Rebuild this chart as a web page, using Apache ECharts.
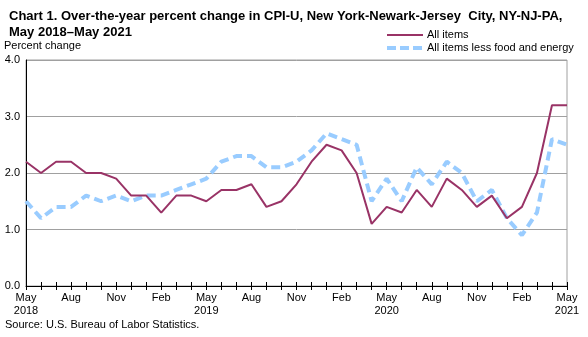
<!DOCTYPE html>
<html><head><meta charset="utf-8">
<script src="https://cdn.jsdelivr.net/npm/echarts@6/dist/echarts.min.js"></script>
<style>html,body{margin:0;padding:0;background:#fff}#c{width:588px;height:337px}</style>
</head><body><div id="c"></div>
<script>
const months = ['May','Jun','Jul','Aug','Sep','Oct','Nov','Dec','Jan','Feb','Mar','Apr'];
const startYear = 2018;
const categories = [];
for (let i = 0; i < 37; i++) {
  const m = months[i % 12];
  const y = startYear + Math.floor(i / 12);
  categories.push(m === 'May' ? 'May\n' + y : m);
}
const seriesNames = ['All items', 'All items less food and energy'];
const allItems = [2.2,2.0,2.2,2.2,2.0,2.0,1.9,1.6,1.6,1.3,1.6,1.6,
                  1.5,1.7,1.7,1.8,1.4,1.5,1.8,2.2,2.5,2.4,2.0,1.1,
                  1.4,1.3,1.7,1.4,1.9,1.7,1.4,1.6,1.2,1.4,2.0,3.2,3.2];
const coreItems = [1.5,1.2,1.4,1.4,1.6,1.5,1.6,1.5,1.6,1.6,1.7,1.8,
                   1.9,2.2,2.3,2.3,2.1,2.1,2.2,2.4,2.7,2.6,2.5,1.5,
                   1.9,1.5,2.1,1.8,2.2,2.0,1.5,1.7,1.2,0.9,1.3,2.6,2.5];
const yTicks = [0,1,2,3,4];
const font = 'Liberation Sans, Arial, sans-serif';
const maroon = '#993366', blue = '#99ccff';
const chart = echarts.init(document.getElementById('c'), null, {renderer:'canvas'});
chart.setOption({
  animation:false,
  backgroundColor:'#fff',
  title:{
    text:'Chart 1. Over-the-year percent change in CPI-U, New York-Newark-Jersey  City, NY-NJ-PA,\nMay 2018\u2013May 2021',
    left:4, top:3,
    textStyle:{fontFamily:font, fontSize:13, fontWeight:'bold', color:'#000', lineHeight:16}
  },
  graphic:[
    {type:'text', left:4, top:40, style:{text:'Percent change', font:'11px '+font, fill:'#000'}},
    {type:'text', left:5, top:319, style:{text:'Source: U.S. Bureau of Labor Statistics.', font:'11px '+font, fill:'#000'}},
    {type:'line', shape:{x1:387, y1:35, x2:423, y2:35}, style:{stroke:maroon, lineWidth:2}},
    {type:'text', left:427, top:29, style:{text:seriesNames[0], font:'11px '+font, fill:'#000'}},
    {type:'line', shape:{x1:387, y1:48, x2:423, y2:48}, style:{stroke:blue, lineWidth:4, lineDash:[9,4]}},
    {type:'text', left:427, top:42, style:{text:seriesNames[1], font:'11px '+font, fill:'#000'}}
  ],
  grid:{left:26, right:21, top:60, bottom:51, show:true, borderColor:'#a0a0a0', borderWidth:1},
  xAxis:[{
    type:'category', data:categories, boundaryGap:false,
    axisLine:{lineStyle:{color:'#000', width:1}},
    axisTick:{length:4, interval:0, lineStyle:{color:'#000'}},
    axisLabel:{interval:2, fontFamily:font, fontSize:11, color:'#000', lineHeight:13, margin:5},
    splitLine:{show:false}
  },{
    type:'category', data:categories, boundaryGap:false, position:'bottom',
    axisLine:{show:false},
    axisTick:{inside:true, length:4, interval:0, lineStyle:{color:'#000'}},
    axisLabel:{show:false}, splitLine:{show:false}
  }],
  yAxis:{
    type:'value', min:yTicks[0], max:yTicks[yTicks.length-1], interval:1,
    axisLine:{show:true, lineStyle:{color:'#000'}},
    axisTick:{show:false},
    axisLabel:{formatter:v=>v.toFixed(1), fontFamily:font, fontSize:11, color:'#000', margin:6},
    splitLine:{lineStyle:{color:'#a0a0a0', width:1}}
  },
  series:[
    {name:seriesNames[0], type:'line', data:allItems, showSymbol:false, symbol:'none',
     lineStyle:{color:maroon, width:2}, itemStyle:{color:maroon}, z:3},
    {name:seriesNames[1], type:'line', data:coreItems, showSymbol:false, symbol:'none',
     lineStyle:{color:blue, width:4, type:[9,5]}, itemStyle:{color:blue}, z:2}
  ]
});
</script></body></html>
